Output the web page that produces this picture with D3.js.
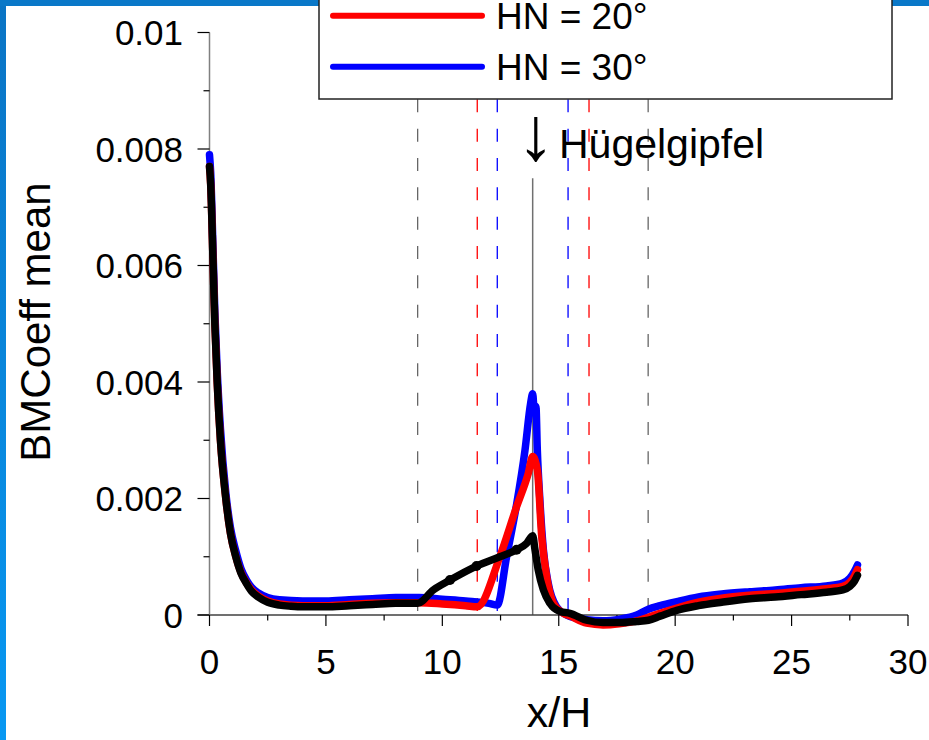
<!DOCTYPE html>
<html>
<head>
<meta charset="utf-8">
<script src="https://cdn.jsdelivr.net/npm/d3@7"></script>
<style>
  html, body { margin: 0; padding: 0; background: #fff; }
  svg { display: block; }
  text { font-family: "Liberation Sans", Arial, Helvetica, sans-serif; fill: #000; }
</style>
</head>
<body>
<svg id="chart" width="929" height="740"></svg>
<script>
// BMCoeff mean along the hill profile, x/H
const blackX = [0, 0.05, 0.15, 0.23, 0.33, 0.47, 0.7, 0.9, 1.13, 1.35, 1.59, 1.8, 2.09, 2.5, 3.0, 3.5, 4.0, 5.0, 6.0, 7.0, 8.0, 8.94, 9.61, 10.33, 11.47, 12.47, 13.19, 13.62, 13.88, 13.98, 14.12, 14.34, 14.62, 15.05, 15.48, 16.2, 16.91, 17.63, 18.35, 18.85, 19.35, 20.07, 21.0, 22.0, 23.2, 24.3, 25.4, 26.5, 27.2, 27.5, 27.7, 27.83];
const blackY = [0.0077, 0.0074, 0.0061, 0.005, 0.004, 0.003, 0.002, 0.0014, 0.001, 0.00072, 0.00054, 0.00041, 0.00031, 0.00022, 0.00017, 0.00015, 0.00014, 0.00014, 0.00016, 0.00018, 0.0002, 0.0002, 0.00043, 0.0006, 0.00084, 0.001, 0.00112, 0.00123, 0.00136, 0.00112, 0.00077, 0.00043, 0.0002, 0.00006, 0.00003, -0.00009, -0.00013, -0.00013, -0.00011, -0.00009, -0.00002, 0.00008, 0.00016, 0.00022, 0.00028, 0.00031, 0.00035, 0.00039, 0.00043, 0.00049, 0.00058, 0.00068];
const blackMarkX = [10.33, 11.47, 13.19];
const blackMarkY = [0.0006, 0.00084, 0.00112];

const redX = [0, 0.05, 0.15, 0.23, 0.33, 0.47, 0.7, 0.9, 1.13, 1.35, 1.59, 1.8, 2.09, 2.5, 3.0, 4.0, 5.0, 6.0, 7.0, 8.0, 9.0, 10.0, 11.0, 11.5, 12.47, 13.19, 13.69, 13.88, 14.08, 14.27, 14.48, 14.77, 15.2, 15.5, 16.2, 16.9, 17.6, 18.35, 18.85, 19.35, 20.07, 21.0, 22.0, 23.2, 24.3, 25.4, 26.5, 27.2, 27.5, 27.7, 27.83];
const redY = [0.0077, 0.0074, 0.0061, 0.005, 0.004, 0.003, 0.002, 0.0014, 0.001, 0.00073, 0.00055, 0.00043, 0.00033, 0.00024, 0.00019, 0.00016, 0.00016, 0.00018, 0.0002, 0.00021, 0.00021, 0.00019, 0.00016, 0.00014, 0.001, 0.00186, 0.00243, 0.00272, 0.00249, 0.00134, 0.00066, 0.0002, 0.00003, -0.00002, -0.00014, -0.00017, -0.00015, -0.0001, -0.00004, 0.00003, 0.00012, 0.00022, 0.00029, 0.00034, 0.00037, 0.00041, 0.00045, 0.00049, 0.00056, 0.00067, 0.00078];

const blueX = [0, 0.05, 0.15, 0.23, 0.33, 0.47, 0.7, 0.9, 1.13, 1.35, 1.59, 1.8, 2.09, 2.5, 3.0, 4.0, 5.0, 6.0, 7.0, 8.0, 9.0, 10.0, 11.0, 12.0, 12.36, 12.76, 13.19, 13.55, 13.79, 13.88, 13.95, 14.02, 14.08, 14.19, 14.34, 14.55, 14.91, 15.34, 16.2, 16.9, 17.63, 18.35, 18.85, 19.35, 20.07, 21.0, 22.0, 23.2, 24.3, 25.4, 26.5, 27.2, 27.5, 27.7, 27.83];
const blueY = [0.0079, 0.0076, 0.0063, 0.0052, 0.0042, 0.0032, 0.0021, 0.0015, 0.0011, 0.0008, 0.0006, 0.00048, 0.00038, 0.0003, 0.00026, 0.00024, 0.00024, 0.00026, 0.00028, 0.0003, 0.0003, 0.00027, 0.00024, 0.0002, 0.00017, 0.001, 0.0019, 0.00283, 0.00363, 0.0038, 0.0035, 0.00358, 0.00283, 0.00197, 0.00112, 0.00054, 0.00014, 0, -0.00008, -0.0001, -0.00007, 0, 0.0001, 0.00016, 0.00023, 0.00031, 0.00036, 0.0004, 0.00043, 0.00047, 0.0005, 0.00055, 0.00063, 0.00075, 0.00086];

// reference positions (x/H) of the separation / reattachment markers
const refX = [8.94, 11.5, 12.36, 15.4, 16.3, 18.84];
const refColor = ["#666666", "#ff0000", "#0000ff", "#0000ff", "#ff0000", "#666666"];
const hillTopX = 13.88;
const hillTopYTop = 0.0075;

const xTicks = [0, 5, 10, 15, 20, 25, 30];
const xMinor = [2.5, 7.5, 12.5, 17.5, 22.5, 27.5];
const yTicks = [0, 0.002, 0.004, 0.006, 0.008, 0.01];
const yTickLabels = ["0", "0.002", "0.004", "0.006", "0.008", "0.01"];
const yMinor = [0.001, 0.003, 0.005, 0.007, 0.009];

const legendLabels = ["HN = 20°", "HN = 30°"];
const legendColors = ["#ff0000", "#0000ff"];

const svg = d3.select("#chart");
const W = 929, H = 740;

// slide frame
const defs = svg.append("defs");
const grad = defs.append("linearGradient").attr("id", "frameGrad")
  .attr("x1", 0).attr("y1", 0).attr("x2", 0).attr("y2", 1);
grad.append("stop").attr("offset", "0%").attr("stop-color", "#0a74c4");
grad.append("stop").attr("offset", "100%").attr("stop-color", "#0898f2");
svg.append("rect").attr("x", 0).attr("y", 0).attr("width", 6).attr("height", H).attr("fill", "url(#frameGrad)");
svg.append("rect").attr("x", 0).attr("y", 0).attr("width", W).attr("height", 6).attr("fill", "#0a78c8");

const x = d3.scaleLinear().domain([0, 30]).range([209.5, 908]);
const y = d3.scaleLinear().domain([0, 0.01]).range([615, 32.5]);

// reference lines
const period = 29.33, dash = 13;
svg.append("g").selectAll("line").data(refX).join("line")
  .attr("x1", d => x(d)).attr("x2", d => x(d))
  .attr("y1", y(0.01)).attr("y2", y(0))
  .attr("stroke", (d, i) => refColor[i])
  .attr("stroke-width", 1.3)
  .attr("stroke-dasharray", `${dash},${period - dash}`)
  .attr("stroke-dashoffset", period - 8.2);

svg.append("line")
  .attr("x1", x(hillTopX)).attr("x2", x(hillTopX))
  .attr("y1", y(hillTopYTop)).attr("y2", y(0))
  .attr("stroke", "#707070").attr("stroke-width", 1.5);

// axes
const xAxis = svg.append("g");
xAxis.append("line").attr("x1", x(0) - 12).attr("x2", x(30)).attr("y1", y(0)).attr("y2", y(0))
  .attr("stroke", "#404040").attr("stroke-width", 1.5);
xAxis.selectAll("line.maj").data(xTicks).join("line").attr("class", "maj")
  .attr("x1", d => x(d)).attr("x2", d => x(d)).attr("y1", y(0)).attr("y2", y(0) + 11)
  .attr("stroke", "#000").attr("stroke-width", 1.2);
xAxis.selectAll("line.min").data(xMinor).join("line").attr("class", "min")
  .attr("x1", d => x(d)).attr("x2", d => x(d)).attr("y1", y(0)).attr("y2", y(0) + 5.5)
  .attr("stroke", "#000").attr("stroke-width", 1.2);
xAxis.selectAll("text").data(xTicks).join("text")
  .attr("x", d => x(d)).attr("y", 674)
  .attr("text-anchor", "middle").attr("font-size", 35)
  .text(d => d);

const yAxis = svg.append("g");
yAxis.append("line").attr("x1", x(0)).attr("x2", x(0)).attr("y1", y(0.01)).attr("y2", y(0))
  .attr("stroke", "#808080").attr("stroke-width", 1.5);
yAxis.selectAll("line.maj").data(yTicks).join("line").attr("class", "maj")
  .attr("x1", x(0) - 12).attr("x2", x(0)).attr("y1", d => y(d)).attr("y2", d => y(d))
  .attr("stroke", "#000").attr("stroke-width", 1.2);
yAxis.selectAll("line.min").data(yMinor).join("line").attr("class", "min")
  .attr("x1", x(0) - 6).attr("x2", x(0)).attr("y1", d => y(d)).attr("y2", d => y(d))
  .attr("stroke", "#000").attr("stroke-width", 1.2);
yAxis.selectAll("text").data(yTicks).join("text")
  .attr("x", 183).attr("y", d => y(d)).attr("dy", "0.36em")
  .attr("text-anchor", "end").attr("font-size", 35)
  .text((d, i) => yTickLabels[i]);

svg.append("text").attr("x", 559).attr("y", 727)
  .attr("text-anchor", "middle").attr("font-size", 43).text("x/H");
svg.append("text").attr("transform", "translate(50,322) rotate(-90)")
  .attr("text-anchor", "middle").attr("font-size", 42).text("BMCoeff mean");

// data lines
const line = d3.line().x(d => x(d[0])).y(d => y(d[1])).curve(d3.curveMonotoneX);
const series = [
  { xs: blueX, ys: blueY, color: "#0000ff" },
  { xs: redX, ys: redY, color: "#ff0000" },
  { xs: blackX, ys: blackY, color: "#000000" }
];
series.forEach(s => {
  svg.append("path")
    .datum(s.xs.map((v, i) => [v, s.ys[i]]))
    .attr("d", line)
    .attr("fill", "none")
    .attr("stroke", s.color)
    .attr("stroke-width", 7.5)
    .attr("stroke-linejoin", "round")
    .attr("stroke-linecap", "round");
});
svg.append("g").selectAll("circle").data(blackMarkX).join("circle")
  .attr("cx", d => x(d)).attr("cy", (d, i) => y(blackMarkY[i])).attr("r", 5).attr("fill", "#000");

// annotation: arrow pointing at the hill top, then the label
svg.append("text").attr("x", 517).attr("y", 160).attr("font-size", 76).text("↓");
svg.append("text").attr("x", 559).attr("y", 158).attr("font-size", 41).text("Hügelgipfel");

// legend
const lg = svg.append("g");
lg.append("rect").attr("x", 319).attr("y", -10).attr("width", 573).attr("height", 109)
  .attr("fill", "#fff").attr("stroke", "#222").attr("stroke-width", 1.5);
legendLabels.forEach((lab, i) => {
  const ly = 15.7 + i * 51;
  lg.append("line").attr("x1", 333).attr("x2", 482).attr("y1", ly).attr("y2", ly)
    .attr("stroke", legendColors[i]).attr("stroke-width", 6).attr("stroke-linecap", "round");
  lg.append("text").attr("x", 496).attr("y", ly + 12.8).attr("font-size", 37).text(lab);
});
</script>
</body>
</html>
